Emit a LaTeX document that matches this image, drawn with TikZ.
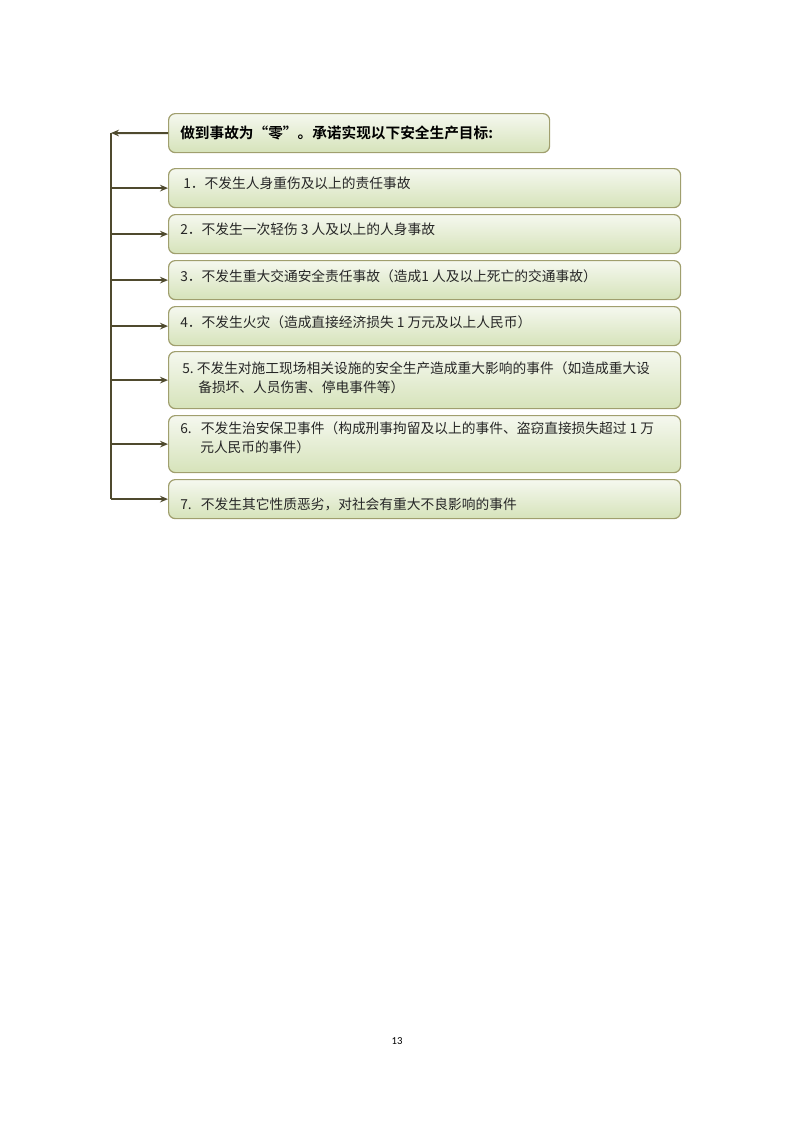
\documentclass[tikz,border=0pt]{standalone}
\usepackage{fontspec}
\newfontfamily\cjk{Noto Sans CJK SC}
\newfontfamily\cjkbold{Noto Sans CJK SC}[BoldFont={* Bold}]
\setsansfont{Carlito}
\usetikzlibrary{arrows.meta}
\definecolor{boxline}{HTML}{A09F6E}
\definecolor{boxtop}{HTML}{F5F8EF}
\definecolor{boxbot}{HTML}{D6E3BA}
\definecolor{conn}{HTML}{4F4A2E}
\begin{document}
\begin{tikzpicture}[x=0.75pt,y=-0.75pt,
  goalbox/.style={draw=boxline,line width=0.9pt,rounded corners=5pt,
    top color=boxtop,bottom color=boxbot,anchor=north west,
    minimum width=384pt,inner sep=0pt},
  txt/.style={anchor=west,inner sep=0pt,font=\cjk\fontsize{10.3pt}{14pt}\selectfont,text=black!85},
  spine/.style={draw=conn,line width=1.5pt},
  arr/.style={draw=conn,line width=1.5pt,-{Stealth[length=6pt,width=5pt,inset=2pt]}}]
\useasboundingbox (0,0) rectangle (793,1122);
% boxes
\node[goalbox,minimum width=285.75pt,minimum height=29.25pt] (t) at (168,113) {};
\node[goalbox,minimum height=29.25pt] (b1) at (168,168) {};
\node[goalbox,minimum height=29.25pt] (b2) at (168,214) {};
\node[goalbox,minimum height=29.25pt] (b3) at (168,260) {};
\node[goalbox,minimum height=29.25pt] (b4) at (168,306) {};
\node[goalbox,minimum height=42.75pt] (b5) at (168,351) {};
\node[goalbox,minimum height=42.75pt] (b6) at (168,415) {};
\node[goalbox,minimum height=29.25pt] (b7) at (168,479) {};
% texts
\node[txt,font=\cjkbold\bfseries\fontsize{11pt}{14pt}\selectfont,text=black] (tt) at (180,133) {做到事故为“零”。承诺实现以下安全生产目标:};
\node[txt] (t1) at (183,183) {1．不发生人身重伤及以上的责任事故};
\node[txt] (t2) at (180,229) {2．不发生一次轻伤 3\ 人及以上的人身事故};
\node[txt] (t3) at (180,276) {3．不发生重大交通安全责任事故（造成1\ 人及以上死亡的交通事故）};
\node[txt] (t4) at (180,322) {4．不发生火灾（造成直接经济损失 1\ 万元及以上人民币）};
\node[txt] (t5a) at (182,368) {5.\ 不发生对施工现场相关设施的安全生产造成重大影响的事件（如造成重大设};
\node[txt] (t5b) at (198,387) {备损坏、人员伤害、停电事件等）};
\node[txt] (t6a) at (180,428) {6.\ \ \ 不发生治安保卫事件（构成刑事拘留及以上的事件、盗窃直接损失超过 1\ 万};
\node[txt] (t6b) at (200,447) {元人民币的事件）};
\node[txt] (t7) at (180,504) {7.\ \ \ 不发生其它性质恶劣，对社会有重大不良影响的事件};
% connectors
\coordinate (spT) at (111,133);
\coordinate (spB) at (111,499);
\draw[spine] (spT) -- (spB);
\draw[arr] (t.west) -- (spT);
\foreach \b in {b1,b2,b3,b4,b5,b6,b7}{
  \draw[arr] (\b.west -| spT) -- (\b.west);
}
% page number
\node[font=\sffamily\fontsize{8pt}{10pt}\selectfont] (pg) at (397,1041) {13};
\end{tikzpicture}
\end{document}
